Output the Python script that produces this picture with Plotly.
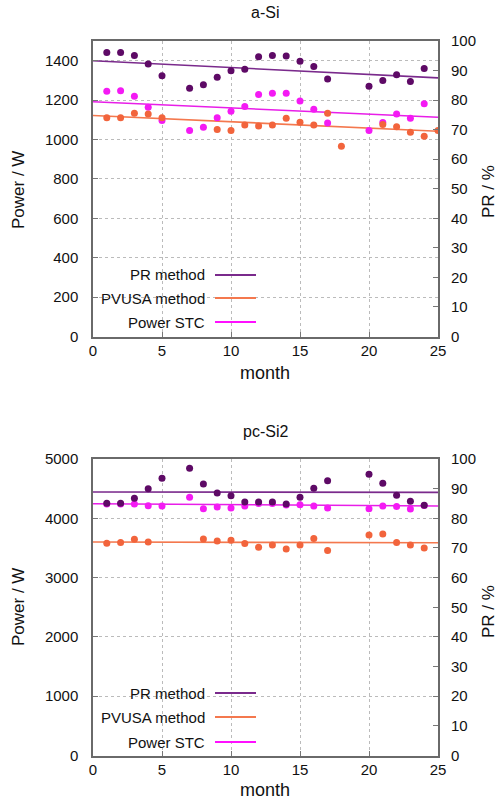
import plotly.graph_objects as go

W, H = 500, 801

months = list(range(1, 26))

# a-Si (top) power values in W
pr_a = [1442, 1442, 1427, 1383, 1324, None, 1260, 1278, 1316, 1349, 1356, 1420, 1427, 1424,
        1397, 1370, 1307, None, None, 1270, 1299, 1329, 1295, 1361, None]
stc_a = [1245, 1248, 1219, 1164, 1096, None, 1046, 1062, 1111, 1143, 1167, 1228, 1235, 1235,
         1196, 1154, 1084, None, None, 1046, 1086, 1130, 1108, 1181, None]
pvusa_a = [1111, 1111, 1133, 1130, 1110, None, None, None, 1051, 1046, 1074, 1069, 1074, 1108,
           1088, 1074, 1133, 966, None, None, 1076, 1065, 1037, 1017, 1046]

# pc-Si2 (bottom) power values in W
pr_b = [4253, 4253, 4337, 4499, 4674, None, 4843, 4578, 4427, 4381, 4275, 4275, 4275, 4241,
        4354, 4506, 4634, None, None, 4742, 4590, 4388, 4287, 4222, None]
stc_b = [4240, 4240, 4241, 4213, 4207, None, 4354, 4162, 4190, 4173, 4207, 4250, 4250, 4224,
         4230, 4207, 4173, None, None, 4162, 4207, 4200, 4156, 4215, None]
pvusa_b = [3580, 3590, 3647, 3602, None, None, None, 3652, 3619, 3630, 3573, 3512, 3551, 3484,
           3551, 3658, 3455, None, None, 3720, 3737, 3590, 3551, 3500, None]

# trend lines (start, end) over months 0..25
trend_x = [0, 25]
pr_trend_a = [1400, 1313]
stc_trend_a = [1192, 1113]
pvusa_trend_a = [1122, 1042]
pr_trend_b = [4444, 4438]
stc_trend_b = [4245, 4208]
pvusa_trend_b = [3600, 3588]

series_names = ["PR method", "PVUSA method", "Power STC"]

C_PR_M = "#5e0a66"
C_PR_L = "#7a2a8c"
C_OR_M = "#f2643c"
C_OR_L = "#f4784e"
C_MG_M = "#f41af4"
C_MG_L = "#e81ee8"

FONT = "Liberation Sans, Arial, sans-serif"

fig = go.Figure()


def add_panel(xa, ya, pr, stc, pv, prt, stct, pvt):
    fig.add_trace(go.Scatter(x=trend_x, y=stct, xaxis=xa, yaxis=ya, mode="lines",
                             line=dict(color=C_MG_L, width=1.6), showlegend=False))
    fig.add_trace(go.Scatter(x=trend_x, y=pvt, xaxis=xa, yaxis=ya, mode="lines",
                             line=dict(color=C_OR_L, width=1.6), showlegend=False))
    fig.add_trace(go.Scatter(x=trend_x, y=prt, xaxis=xa, yaxis=ya, mode="lines",
                             line=dict(color=C_PR_L, width=1.6), showlegend=False))
    fig.add_trace(go.Scatter(x=months, y=stc, xaxis=xa, yaxis=ya, mode="markers",
                             marker=dict(color=C_MG_M, size=7), showlegend=False))
    fig.add_trace(go.Scatter(x=months, y=pv, xaxis=xa, yaxis=ya, mode="markers",
                             marker=dict(color=C_OR_M, size=7), showlegend=False))
    fig.add_trace(go.Scatter(x=months, y=pr, xaxis=xa, yaxis=ya, mode="markers",
                             marker=dict(color=C_PR_M, size=7), showlegend=False))


add_panel("x", "y", pr_a, stc_a, pvusa_a, pr_trend_a, stc_trend_a, pvusa_trend_a)
add_panel("x2", "y3", pr_b, stc_b, pvusa_b, pr_trend_b, stc_trend_b, pvusa_trend_b)
# empty traces so the right-hand axes are drawn
fig.add_trace(go.Scatter(x=[None], y=[None], xaxis="x", yaxis="y2", showlegend=False))
fig.add_trace(go.Scatter(x=[None], y=[None], xaxis="x2", yaxis="y4", showlegend=False))

x0, x1 = 93 / W, 438 / W
top_dom = [1 - 336.5 / H, 1 - 41 / H]
bot_dom = [1 - 755.5 / H, 1 - 459 / H]

tickfont = dict(family=FONT, size=15, color="#111")
common_x = dict(domain=[x0, x1], range=[0, 25], dtick=5, ticks="inside", ticklen=5,
                tickcolor="#777", showline=True, mirror=True, linecolor="#6a6a6a", linewidth=1.5,
                showgrid=True, gridcolor="#bbbbbb", griddash="dot", gridwidth=1,
                zeroline=False, tickfont=tickfont, ticklabelstandoff=0, automargin=False)
common_yl = dict(ticks="inside", ticklen=5, tickcolor="#777", showline=True, mirror=True,
                 linecolor="#6a6a6a", linewidth=1.5, showgrid=True, gridcolor="#bbbbbb",
                 griddash="dot", gridwidth=1, zeroline=False, tickfont=tickfont,
                 ticklabelstandoff=10, automargin=False)
common_yr = dict(range=[0, 100], dtick=10, side="right", ticks="inside", ticklen=5,
                 tickcolor="#777", showgrid=False, zeroline=False, tickfont=tickfont,
                 ticklabelstandoff=12, showline=False, automargin=False)

fig.update_layout(
    width=W, height=H,
    margin=dict(l=0, r=0, t=0, b=0, autoexpand=False),
    paper_bgcolor="white", plot_bgcolor="white",
    showlegend=False,
    xaxis=dict(common_x, anchor="y"),
    yaxis=dict(common_yl, domain=top_dom, range=[0, 1500], dtick=200, anchor="x"),
    yaxis2=dict(common_yr, overlaying="y", anchor="x"),
    xaxis2=dict(common_x, anchor="y3"),
    yaxis3=dict(common_yl, domain=bot_dom, range=[0, 5000], dtick=1000, anchor="x2"),
    yaxis4=dict(common_yr, overlaying="y3", anchor="x2"),
)

ann = []
shapes = []


def px(x):
    return x / W


def py(y):
    return 1 - y / H


def text(t, x, y, size, xanchor="center", angle=0):
    ann.append(dict(text=t, x=px(x), y=py(y), xref="paper", yref="paper",
                    xanchor=xanchor, yanchor="middle", showarrow=False, textangle=angle,
                    font=dict(family=FONT, size=size, color="#111")))


def panel_text(title, title_y, month_y, left_y, right_y, legend_ys):
    text(title, 265, title_y, 16)
    text("month", 265, month_y, 18)
    text("Power / W", 18, left_y, 17, angle=-90)
    text("PR / %", 488, right_y, 17, angle=-90)
    cols = [C_PR_L, C_OR_L, "#ff10ff"]
    for name, ly, c in zip(series_names, legend_ys, cols):
        text(name, 207, ly, 15, xanchor="right")
        shapes.append(dict(type="line", xref="paper", yref="paper", x0=px(215), x1=px(256),
                           y0=py(ly), y1=py(ly), line=dict(color=c, width=2)))


panel_text("a-Si", 12, 373, 190, 192, [275, 298, 322])
panel_text("pc-Si2", 431, 790, 607, 612, [693, 717, 742])

fig.update_layout(annotations=ann, shapes=shapes)

fig.write_html("out.html", config={"displayModeBar": False},
               post_script="document.body.style.margin='0';document.body.style.padding='0';")
